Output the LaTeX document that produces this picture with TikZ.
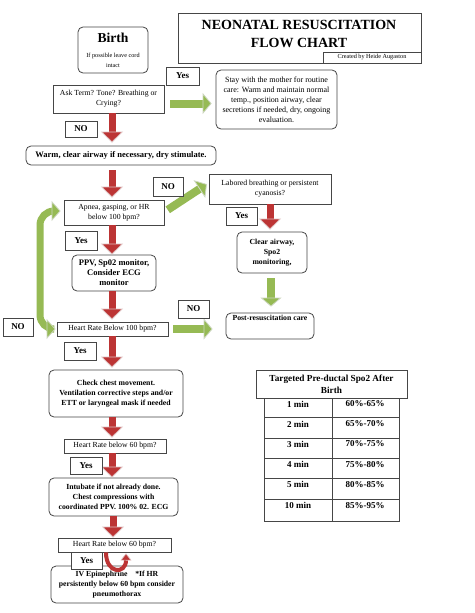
\documentclass[tikz,border=0pt]{standalone}
\usepackage{fontspec}
\setmainfont{Liberation Serif}
\usetikzlibrary{arrows.meta,calc}
\definecolor{redarr}{RGB}{188,52,52}
\definecolor{redhead}{RGB}{222,190,190}
\definecolor{grnarr}{RGB}{150,186,84}
\definecolor{grnhead}{RGB}{205,215,192}
\definecolor{boxline}{RGB}{70,70,70}
\begin{document}
\begin{tikzpicture}[x=1pt,y=-1pt,
  box/.style={draw=boxline,line width=0.8pt,fill=white,inner sep=0pt,align=center,
    font=\fontsize{7.75}{10}\selectfont},
  rbox/.style={box,rounded corners=5pt},
  bbox/.style={rbox,font=\fontsize{7.75}{10}\selectfont\bfseries},
  lab/.style={box,font=\fontsize{9}{10}\selectfont\bfseries},
  redarrow/.style={draw=redarr,line width=7pt,
    -{Triangle[width=22pt,length=11pt,line width=0.8pt,color=redhead,fill=redarr]}},
  grnarrow/.style={draw=grnarr,line width=8pt,
    -{Triangle[width=21pt,length=9pt,line width=0.8pt,color=grnhead,fill=grnarr]}},
  cell/.style={font=\fontsize{9}{10}\selectfont\bfseries,inner sep=0pt}
]
\useasboundingbox (0,0) rectangle (474,613);
\fill[white] (0,0) rectangle (474,613);

% title
\node[box,minimum width=243,minimum height=50] (title) at (299.5,38) {};
\node[font=\fontsize{14}{18}\selectfont\bfseries,align=center,inner sep=0pt] (titletext) at (299,34) {NEONATAL RESUSCITATION\\FLOW CHART};
\node[box,minimum width=98,minimum height=11,font=\fontsize{6.2}{7}\selectfont] (credit) at (372,57.5) {Created by Heide Augaston};

% nodes
\node[rbox,minimum width=70,minimum height=46] (birth) at (113,50) {\fontsize{13.6}{13}\selectfont\bfseries Birth\\[5pt]\fontsize{6.2}{9}\selectfont If possible leave cord\\\fontsize{6.2}{9}\selectfont intact};
\node[box,minimum width=111,minimum height=28] (ask) at (108.5,99) {Ask Term? Tone? Breathing or\\Crying?};
\node[rbox,minimum width=121,minimum height=59,font=\fontsize{8}{10}\selectfont] (stay) at (276.5,99.5) {Stay with the mother for routine\\care: Warm and maintain normal\\temp., position airway, clear\\secretions if needed, dry, ongoing\\evaluation.};
\node[bbox,minimum width=190,minimum height=19,font=\fontsize{8.5}{10}\selectfont\bfseries] (warm) at (121,155.5) {Warm, clear airway if necessary, dry stimulate.};
\node[box,minimum width=122,minimum height=30] (labored) at (270,189) {Labored breathing or persistent\\cyanosis?};
\node[box,minimum width=100,minimum height=25] (apnea) at (114,212.5) {Apnea, gasping, or HR\\below 100 bpm?};
\node[bbox,minimum width=70,minimum height=41] (clear) at (272,252.5) {Clear airway,\\Spo2\\monitoring,};
\node[bbox,minimum width=88,minimum height=26] (post) at (270,326) {Post-resuscitation care\\[6pt]};
\node[bbox,minimum width=84,minimum height=36,font=\fontsize{8.5}{10}\selectfont\bfseries] (ppv) at (114,273) {PPV, Sp02 monitor,\\Consider ECG\\monitor};
\node[box,minimum width=111,minimum height=14] (hr100) at (112.5,329) {Heart Rate Below 100 bpm?};
\node[bbox,minimum width=134,minimum height=47] (check) at (116,393.5) {Check chest movement.\\Ventilation corrective steps and/or\\ETT or laryngeal mask if needed};
\node[box,minimum width=102,minimum height=14] (hr60a) at (115,446) {Heart Rate below 60 bpm?};
\node[bbox,minimum width=129,minimum height=38] (intub) at (113.5,497) {Intubate if not already done.\\Chest compressions with\\coordinated PPV. 100\% 02. ECG};
\node[box,minimum width=113,minimum height=14] (hr60b) at (114.5,545) {Heart Rate below 60 bpm?};
\node[bbox,minimum width=132,minimum height=37] (iv) at (117,584.5) {IV Epinephrine\quad *If HR\\persistently below 60 bpm consider\\pneumothorax};

% column coordinates
\coordinate (col) at (112,0);
\coordinate (colb) at (113,0);
\coordinate (colr) at (270,0);
\coordinate (colg) at (271,0);

% red arrows
\draw[redarrow,shorten >=3pt] (ask.south -| col) -- (warm.north -| col);
\draw[redarrow,shorten <=5pt,shorten >=2pt] (warm.south -| col) -- (apnea.north -| col);
\draw[redarrow] (apnea.south -| col) -- (ppv.north -| col);
\draw[redarrow,shorten >=2pt] (ppv.south -| col) -- (hr100.north -| col);
\draw[redarrow,shorten >=2pt] (hr100.south -| col) -- (check.north -| col);
\draw[redarrow,shorten >=1pt] (check.south -| col) -- (hr60a.north -| col);
\draw[redarrow] (hr60a.south -| col) -- (intub.north -| col);
\draw[redarrow] (intub.south -| colb) -- (hr60b.north -| colb);
\draw[redarrow,shorten >=2pt] (labored.south -| colr) -- (clear.north -| colr);
\draw[draw=redarr,line width=4pt,-{Triangle[width=11pt,length=7pt,line width=0.6pt,color=redhead,fill=redarr]}]
  ([xshift=-8.5pt]hr60b.south) .. controls ([xshift=-8.5pt,yshift=-22pt]hr60b.south) and ([xshift=11.5pt,yshift=-22pt]hr60b.south) .. ([xshift=11.5pt,yshift=-1pt]hr60b.south);

% green arrows
\coordinate (g1) at ($(ask.east |- stay.west)+(0,4)$);
\draw[grnarrow,shorten <=6pt,shorten >=4pt] (g1) -- (g1 -| stay.west);
\draw[grnarrow,shorten <=4pt,shorten >=2pt] ([yshift=0.5pt]apnea.east) -- ([yshift=6pt]labored.west);
\draw[grnarrow,shorten <=5pt,shorten >=6pt] (clear.south -| colg) -- (post.north -| colg);
\draw[grnarrow,shorten <=5pt,shorten >=13pt] (hr100.east) -- (hr100.east -| post.west);
\draw[draw=grnarr,line width=7pt,rounded corners=14pt,
  {Triangle[width=20pt,length=9pt,line width=0.8pt,color=grnhead,fill=grnarr]}-{Triangle[width=20pt,length=9pt,line width=0.8pt,color=grnhead,fill=grnarr]}]
  ([xshift=-1pt]hr100.west) -- (40,329) -- (40,211) -- ([xshift=-3pt]apnea.west |- 0,211);

% labels
\node[lab,minimum width=33,minimum height=18] (yes1) at (182.5,76) {Yes};
\node[lab,minimum width=32,minimum height=16] (no1) at (81,129) {NO};
\node[lab,minimum width=30,minimum height=19] (no2) at (168,186.5) {NO};
\node[lab,minimum width=31,minimum height=18] (yes2) at (241.5,216) {Yes};
\node[lab,minimum width=32,minimum height=19] (yes3) at (81,240.5) {Yes};
\node[lab,minimum width=31,minimum height=18] (no3) at (193.5,309) {NO};
\node[lab,minimum width=30,minimum height=18] (no4) at (18,327) {NO};
\node[lab,minimum width=32,minimum height=18] (yes4) at (80,351) {Yes};
\node[lab,minimum width=32,minimum height=17] (yes5) at (86,465.5) {Yes};
\node[lab,minimum width=31,minimum height=17] (yes6) at (86.5,560.5) {Yes};

% table
\draw[boxline,line width=0.6pt] (264,398) rectangle (399,521);
\draw[boxline,line width=0.6pt] (332,398) -- (332,521);
\foreach \y in {417,438,458,478,499} \draw[boxline,line width=0.6pt] (264,\y) -- (399,\y);
\node[box,minimum width=151,minimum height=28,font=\fontsize{9.25}{12}\selectfont\bfseries] (thead) at (331.5,384) {Targeted Pre-ductal Spo2 After\\Birth};
\foreach \i/\y/\a/\b in {1/404/1 min/60\%-65\%,2/424/2 min/65\%-70\%,3/444/3 min/70\%-75\%,4/464.5/4 min/75\%-80\%,5/484.5/5 min/80\%-85\%,6/505.5/10 min/85\%-95\%}{
  \node[cell] (ta\i) at (298,\y) {\a};
  \node[cell] (tb\i) at (365,\y) {\b};
}
\end{tikzpicture}
\end{document}
